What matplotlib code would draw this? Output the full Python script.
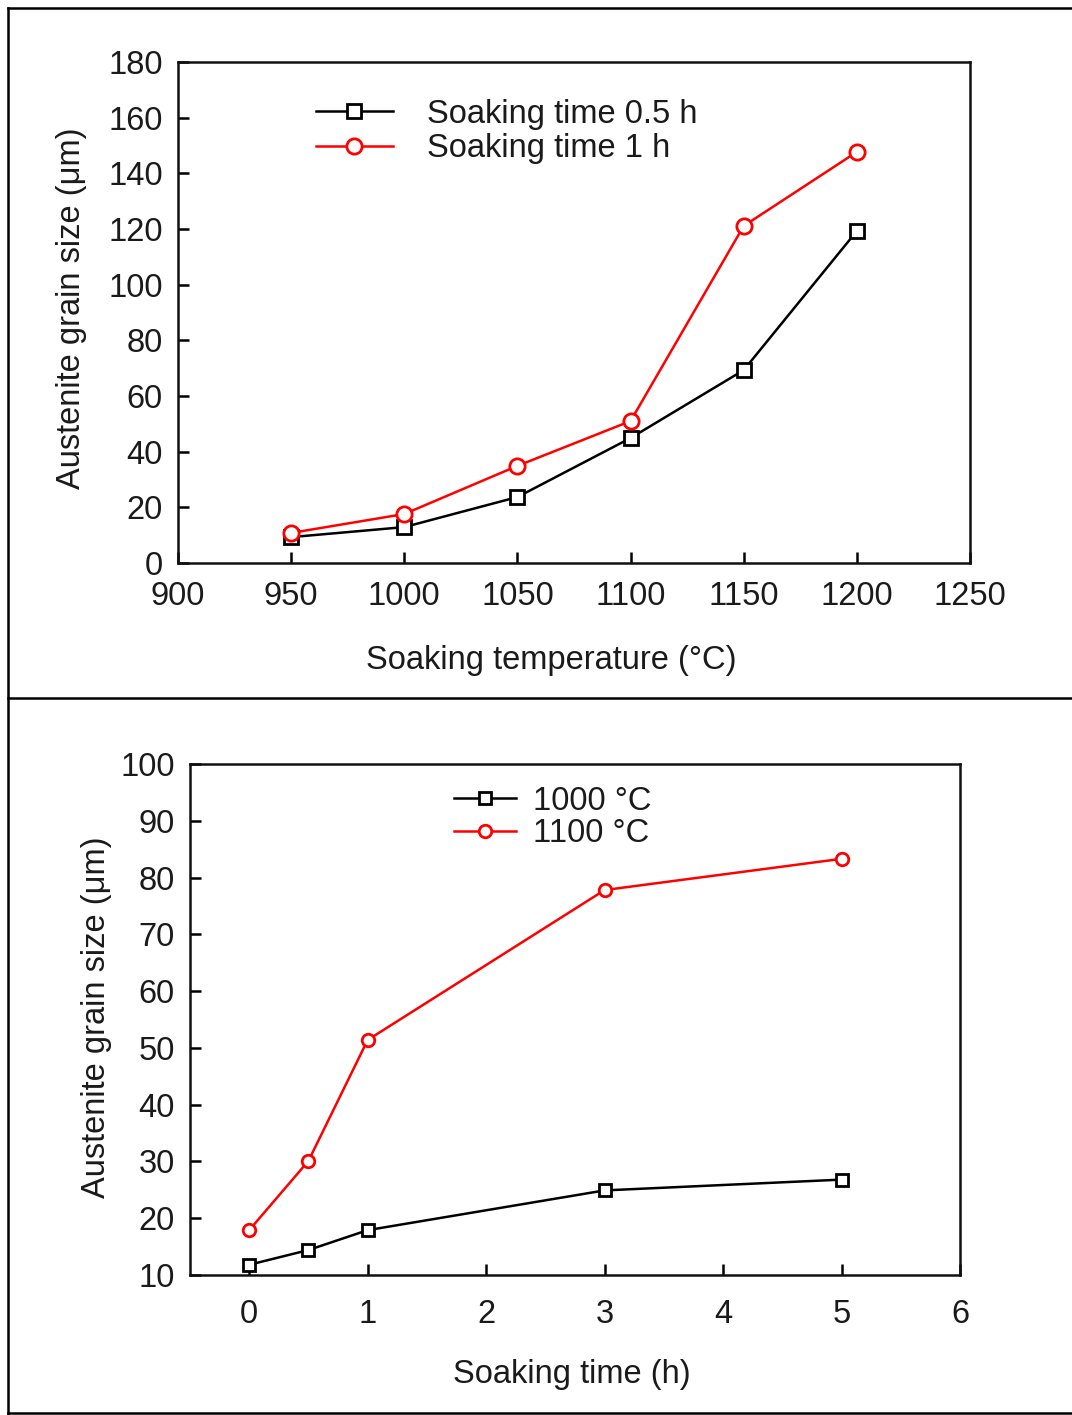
import matplotlib
matplotlib.use('Agg')
from matplotlib import pyplot as plt
from matplotlib.lines import Line2D

plt.rcParams['font.family'] = ['Liberation Sans', 'DejaVu Sans']

# top panel: grain size vs soaking temperature
temp = [950, 1000, 1050, 1100, 1150, 1200]
size_05h = [9.3, 12.9, 23.7, 44.9, 69.3, 119.3]
size_1h = [10.8, 17.6, 34.9, 51.0, 121.1, 147.7]

# bottom panel: grain size vs soaking time
time_h = [0, 0.5, 1, 3, 5]
size_1000 = [11.8, 14.4, 17.9, 24.9, 26.8]
size_1100 = [17.9, 30.1, 51.4, 77.8, 83.3]

txt = '#1a1a1a'
fs = 23.5
W, H = 1072, 1415
fig = plt.figure(figsize=(W / 100, H / 100), dpi=100)


def px_axes(l, t, r, b):
    return fig.add_axes([l / W, 1 - b / H, (r - l) / W, (b - t) / H])


def style(ax, xpad, ypad):
    for s in ax.spines.values():
        s.set_linewidth(1.8)
        s.set_color('#111111')
    ax.tick_params(direction='in', length=8, width=1.8, labelsize=fs,
                   labelcolor=txt, top=False, right=False)
    ax.tick_params(axis='x', pad=xpad)
    ax.tick_params(axis='y', pad=ypad)


ax1 = px_axes(178, 62, 970, 563)
ax1.plot(temp, size_05h, color='black', lw=1.8, marker='s', ms=10,
         mfc='white', mec='black', mew=2, label='Soaking time 0.5 h')
ax1.plot(temp, size_1h, color='red', lw=1.8, marker='o', ms=11,
         mfc='white', mec='red', mew=2, label='Soaking time 1 h')
ax1.set_xlim(900, 1250)
ax1.set_ylim(0, 180)
ax1.set_xticks(range(900, 1251, 50))
ax1.set_yticks(range(0, 181, 20))
style(ax1, 13, 11)
ax1.set_xlabel('Soaking temperature (°C)', fontsize=fs, color=txt)
ax1.set_ylabel('Austenite grain size (μm)', fontsize=fs, color=txt)
ax1.xaxis.label.set_va('center')
ax1.yaxis.label.set_va('center')
ax1.xaxis.set_label_coords(0.471, -0.194)
ax1.yaxis.set_label_coords(-0.134, 0.509)
ax1.legend(loc='upper left', bbox_to_anchor=(0.137, 0.985), frameon=False,
           fontsize=fs, handlelength=2.35, handletextpad=1.05, labelspacing=0.1,
           labelcolor=txt)

ax2 = px_axes(190, 764, 960, 1275)
ax2.plot(time_h, size_1000, color='black', lw=1.8, marker='s', ms=8.5,
         mfc='white', mec='black', mew=2, label='1000 °C')
ax2.plot(time_h, size_1100, color='red', lw=1.8, marker='o', ms=9,
         mfc='white', mec='red', mew=2, label='1100 °C')
ax2.set_xlim(-0.5, 6)
ax2.set_ylim(10, 100)
ax2.set_xticks(range(0, 7))
ax2.set_yticks(range(10, 101, 10))
style(ax2, 17, 11)
ax2.set_xlabel('Soaking time (h)', fontsize=fs, color=txt)
ax2.set_ylabel('Austenite grain size (μm)', fontsize=fs, color=txt)
ax2.xaxis.label.set_va('center')
ax2.yaxis.label.set_va('center')
ax2.xaxis.set_label_coords((572 - 190) / 770, (1275 - 1375) / 511)
ax2.yaxis.set_label_coords((97 - 190) / 770, (1275 - 1017) / 511)
ax2.legend(loc='upper left', bbox_to_anchor=(0.305, 1.015), frameon=False,
           fontsize=fs, handlelength=1.9, handletextpad=0.5, labelspacing=0.05,
           labelcolor=txt)

# table-like border around the two panels
for (x0, y0, x1, y1) in [(8, 8, W, 8), (8, 698, W, 698), (8, 1413, W, 1413),
                         (8, 8, 8, 1415)]:
    fig.add_artist(Line2D([x0 / W, x1 / W], [1 - y0 / H, 1 - y1 / H],
                          color='black', lw=1.8))

fig.savefig('out.png', dpi=100)
